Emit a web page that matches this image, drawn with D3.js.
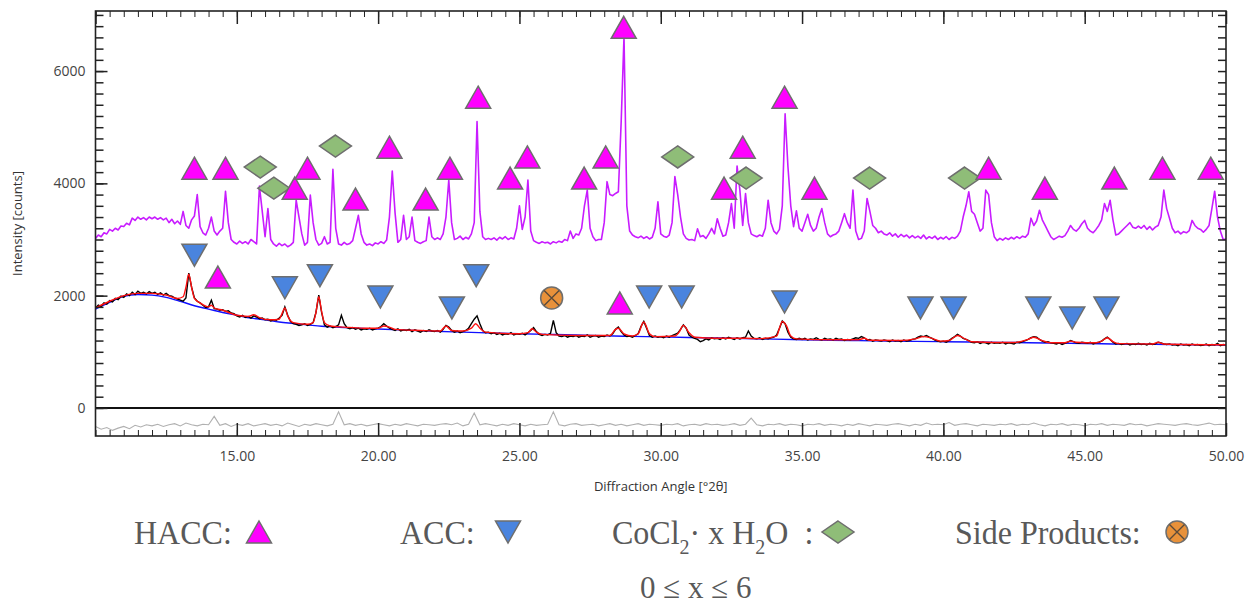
<!doctype html>
<html lang="en">
  <head>
    <meta charset="utf-8">
    <title>XRD pattern</title>
    <script src="https://d3js.org/d3.v7.min.js"></script>
    <style>
      body { margin: 0; background: #fff; }
      svg { display: block; }
    </style>
  </head>
  <body>
    <div id="chart"></div>
    <script type="text/javascript">
    // ---- data ----
    // upper pattern, counts every 0.1 deg from 10.0 to 50.0
    var upperStart = 10, upperStep = 0.1;
    var upperCounts = [
      3020,3080,3050,3120,3100,3180,3150,3200,3170,3240,
      3230,3290,3260,3380,3340,3400,3360,3390,3350,3400,
      3370,3400,3360,3390,3350,3380,3300,3360,3280,3330,
      3270,3500,3250,3200,3350,3420,3800,3230,3120,3080,
      3200,3400,3150,3080,3150,3200,3860,3300,3000,2950,
      2920,2970,2930,2960,2920,3000,2960,2920,3950,3500,
      3050,3550,3000,2920,2880,2930,2890,2920,2870,2900,
      2950,3700,3400,3100,2900,2950,3790,3300,3000,2900,
      2930,3050,2920,2950,4250,3200,2920,2900,2950,2910,
      2930,2980,3200,3430,3100,2950,2900,2920,2890,2940,
      2920,2960,2930,2990,3400,4220,3470,2950,3000,3430,
      3000,3050,3400,2980,2950,2930,2960,2980,3400,3050,
      3000,3030,3000,3100,3400,4060,3300,3000,3020,3060,
      3000,3040,3010,3100,3300,5100,3500,3050,3000,3020,
      3000,3030,2990,3040,3010,3050,3000,3030,3010,3200,
      3600,3180,3400,4060,3150,2980,2950,2930,2960,2940,
      2950,2920,2960,2940,2970,2950,3000,2980,3150,3020,
      3100,3080,3200,3600,3880,3200,3050,2980,3000,3000,
      3300,4030,3800,3780,3820,3850,5100,6620,3600,3150,
      3080,3050,3030,3060,3020,3050,3010,3040,3200,3670,
      3100,3060,3040,3080,3300,4120,3800,3400,3100,3020,
      2990,3000,2980,3190,3050,3070,3020,3100,3200,3100,
      3370,3200,3060,3080,3300,3640,3200,4310,3880,3250,
      3820,3300,3100,3070,3050,3080,3060,3200,3700,3300,
      3150,3100,3180,3600,5240,4300,3600,3230,3510,3200,
      3150,3300,3450,3250,3150,3200,3400,3550,3300,3100,
      3050,3080,3100,3150,3300,3460,3300,3200,3880,3150,
      3000,3020,3150,3730,3500,3250,3200,3120,3150,3100,
      3080,3120,3060,3100,3040,3090,3050,3080,3030,3070,
      3030,3060,3020,3080,3010,3050,3020,3060,3000,3040,
      3010,3050,3000,3040,3020,3060,3150,3400,3600,3850,
      3500,3450,3300,3150,3200,3880,3800,3300,3050,2980,
      3020,2990,3030,3000,3040,3010,3050,3020,3060,3040,
      3100,3380,3250,3330,3520,3350,3250,3150,3050,3000,
      3030,3060,3040,3070,3150,3250,3180,3150,3200,3280,
      3340,3200,3150,3120,3180,3250,3350,3640,3500,3700,
      3350,3080,3100,3150,3200,3250,3300,3220,3200,3240,
      3200,3250,3180,3230,3170,3220,3250,3400,3880,3550,
      3380,3200,3120,3150,3100,3140,3120,3160,3340,3250,
      3200,3180,3130,3180,3250,3550,3860,3400,3150,3000,
      3010
    ];

    // lower pattern (observed), counts every 0.1 deg from 10.0 to 50.0
    var obsCounts = [
      1780,1830,1810,1870,1850,1910,1890,1950,1930,1990,
      1970,2030,2000,2060,2020,2080,2040,2060,2030,2070,
      2040,2060,2020,2050,2010,2040,2000,1990,1960,1940,
      1920,1900,1960,2400,2150,1960,1900,1870,1830,1790,
      1800,1920,1770,1760,1740,1750,1720,1730,1690,1680,
      1640,1620,1650,1610,1630,1600,1640,1620,1590,1600,
      1570,1580,1550,1570,1560,1600,1650,1800,1650,1540,
      1500,1490,1470,1480,1500,1470,1490,1520,1700,2010,
      1700,1480,1440,1460,1430,1450,1480,1650,1500,1430,
      1410,1430,1400,1420,1390,1410,1400,1420,1390,1410,
      1420,1450,1500,1460,1420,1400,1380,1410,1370,1390,
      1380,1400,1360,1390,1370,1350,1380,1360,1390,1370,
      1360,1380,1350,1400,1470,1440,1380,1350,1370,1340,
      1360,1380,1420,1500,1580,1640,1500,1380,1340,1350,
      1320,1340,1310,1330,1300,1320,1310,1340,1300,1320,
      1310,1330,1300,1340,1380,1430,1360,1310,1290,1310,
      1300,1330,1560,1340,1280,1270,1290,1260,1280,1270,
      1290,1260,1280,1270,1300,1260,1280,1290,1260,1280,
      1270,1300,1280,1320,1400,1440,1360,1300,1270,1280,
      1260,1290,1320,1450,1540,1420,1290,1260,1280,1260,
      1270,1250,1280,1260,1290,1310,1330,1400,1480,1420,
      1300,1260,1240,1220,1180,1200,1230,1210,1250,1230,
      1240,1220,1250,1230,1260,1240,1220,1250,1230,1250,
      1260,1370,1280,1240,1230,1250,1220,1240,1230,1250,
      1260,1300,1420,1550,1500,1350,1260,1230,1220,1240,
      1220,1240,1210,1230,1220,1250,1220,1210,1240,1220,
      1230,1210,1240,1220,1230,1200,1220,1210,1230,1250,
      1240,1270,1250,1210,1220,1190,1210,1200,1190,1210,
      1200,1180,1210,1190,1200,1180,1210,1190,1200,1220,
      1230,1260,1280,1270,1290,1260,1240,1210,1190,1180,
      1190,1170,1200,1240,1270,1310,1280,1240,1220,1200,
      1170,1160,1180,1150,1170,1160,1140,1170,1150,1160,
      1150,1170,1140,1160,1150,1140,1170,1160,1180,1200,
      1220,1250,1270,1260,1220,1190,1170,1180,1160,1150,
      1140,1160,1130,1150,1170,1200,1180,1160,1150,1170,
      1160,1150,1170,1140,1160,1170,1190,1230,1260,1220,
      1170,1140,1150,1130,1140,1150,1120,1140,1130,1150,
      1130,1140,1120,1150,1130,1140,1170,1160,1140,1130,
      1140,1120,1130,1110,1140,1120,1130,1110,1140,1120,
      1130,1110,1120,1140,1110,1130,1120,1150,1110,1130,
      1120
    ];

    // calculated fit (red), [angle, counts]
    var fitPoints = [
      [10.0,1780],[10.5,1900],[11.0,2000],[11.5,2040],[12.0,2040],[12.5,2010],[12.9,1950],
      [13.1,1980],[13.2,2150],[13.3,2380],[13.4,2150],[13.5,1950],[13.7,1870],[14.0,1800],
      [14.1,1830],[14.2,1780],[14.5,1740],[15.0,1650],[15.4,1630],[15.6,1660],[15.8,1610],
      [16.2,1570],[16.5,1580],[16.6,1680],[16.7,1780],[16.8,1640],[17.0,1520],[17.5,1490],
      [17.7,1520],[17.8,1700],[17.9,1980],[18.0,1720],[18.1,1520],[18.3,1460],[18.8,1440],
      [19.5,1420],[20.0,1420],[20.1,1440],[20.2,1460],[20.4,1440],[20.6,1400],[21.5,1380],
      [22.2,1370],[22.4,1460],[22.6,1380],[23.0,1370],[23.3,1420],[23.45,1500],[23.6,1420],
      [23.8,1350],[25.0,1320],[25.3,1340],[25.45,1410],[25.6,1350],[25.8,1310],[27.0,1290],
      [28.2,1290],[28.4,1400],[28.5,1420],[28.7,1320],[29.0,1280],[29.2,1320],[29.4,1530],
      [29.6,1320],[29.8,1270],[30.5,1280],[30.65,1350],[30.8,1470],[31.0,1340],[31.2,1260],
      [32.0,1240],[33.0,1240],[33.5,1235],[34.1,1280],[34.2,1420],[34.3,1540],[34.45,1460],
      [34.6,1280],[34.8,1230],[36.0,1215],[37.0,1215],[37.2,1240],[37.4,1205],[38.5,1200],
      [39.0,1230],[39.3,1270],[39.6,1240],[39.9,1190],[40.2,1200],[40.5,1290],[40.8,1220],
      [41.0,1180],[42.5,1165],[43.0,1220],[43.2,1260],[43.5,1200],[43.8,1160],[44.3,1160],
      [44.5,1190],[44.7,1170],[45.4,1160],[45.6,1190],[45.8,1250],[46.0,1180],[46.2,1145],
      [47.4,1140],[47.6,1170],[47.8,1140],[50.0,1125]
    ];

    // background (blue), [angle, counts]
    var bgPoints = [
      [10.0,1760],[10.5,1880],[11.0,1990],[11.5,2020],[12.0,2010],[12.5,1970],[13.0,1900],
      [13.5,1820],[14.0,1760],[14.5,1700],[15.0,1650],[15.5,1600],[16.0,1570],[16.5,1530],
      [17.0,1505],[17.5,1480],[18.0,1455],[18.5,1440],[19.0,1425],[20.0,1405],[21.0,1385],
      [22.0,1365],[23.0,1350],[24.0,1335],[25.0,1322],[26.0,1310],[27.0,1298],[28.0,1285],
      [29.0,1275],[30.0,1265],[31.0,1255],[32.0,1245],[33.0,1235],[34.0,1225],[35.0,1215],
      [36.0,1205],[37.0,1198],[38.0,1192],[39.0,1186],[40.0,1180],[41.0,1175],[42.0,1168],
      [43.0,1162],[44.0,1155],[45.0,1148],[46.0,1140],[47.0,1135],[48.0,1130],[49.0,1125],
      [50.0,1120]
    ];

    // difference curve (grey), counts every 0.2 deg from 10.0 to 50.0
    var diffStep = 0.2;
    var diffCounts = [
      -330,-380,-350,-400,-360,-330,-370,-310,-340,-300,
      -320,-290,-330,-300,-280,-320,-270,-300,-320,-290,
      -300,-150,-310,-280,-330,-290,-310,-280,-320,-300,
      -280,-310,-290,-320,-270,-300,-330,-290,-310,-280,
      -300,-320,-290,-70,-300,-280,-310,-290,-320,-300,
      -280,-300,-320,-290,-310,-280,-300,-320,-290,-300,
      -310,-290,-280,-300,-270,-320,-290,-90,-300,-280,
      -300,-320,-290,-310,-280,-300,-320,-290,-310,-300,
      -290,-70,-300,-320,-290,-280,-310,-300,-290,-320,
      -300,-280,-310,-290,-320,-300,-280,-310,-290,-300,
      -310,-290,-300,-280,-320,-300,-290,-310,-280,-300,
      -290,-310,-300,-280,-310,-290,-180,-300,-320,-290,
      -300,-280,-310,-290,-300,-320,-290,-300,-280,-310,
      -290,-300,-320,-290,-310,-280,-300,-320,-290,-300,
      -310,-290,-280,-300,-320,-290,-310,-270,-300,-290,
      -300,-260,-310,-290,-280,-300,-320,-290,-300,-310,
      -290,-300,-280,-310,-290,-300,-270,-300,-320,-290,
      -300,-280,-310,-290,-300,-320,-290,-300,-280,-310,
      -290,-300,-310,-280,-300,-290,-320,-300,-280,-290,
      -300,-310,-290,-280,-300,-310,-290,-270,-300,-290,
      -300
    ];

    // phase markers: angle, counts
    var haccAngles = [13.50,14.60,17.05,17.50,19.20,20.40,21.68,22.54,23.54,24.67,25.28,27.29,
                      28.05,28.69,32.24,32.90,34.38,35.44,41.60,43.59,46.05,47.75,49.46,14.33,28.55];
    var haccCounts = [4270,4270,3915,4270,3720,4645,3720,4270,5535,4095,4470,4095,
                      4470,6780,3915,4645,5535,3915,4270,3915,4095,4270,4270,2330,1870];
    var accAngles = [13.50,16.70,17.94,20.08,22.61,23.47,29.59,30.74,34.38,39.19,40.36,43.36,44.56,45.77];
    var accCounts = [2720,2140,2355,1975,1780,2355,1975,1975,1885,1780,1780,1780,1600,1780];
    var coclAngles = [15.83,16.31,18.49,30.60,33.02,37.39,40.75];
    var coclCounts = [4290,3915,4665,4470,4095,4095,4095];
    var sideAngles = [26.14];
    var sideCounts = [1960];

    var xTicksMajor = [15, 20, 25, 30, 35, 40, 45, 50];
    var yTicksMajor = [0, 2000, 4000, 6000];

    // ---- layout ----
    var width = 1246, height = 607;
    var plot = {left: 95.5, right: 1226, top: 11, bottom: 436};

    var x = d3.scaleLinear().domain([10, 50]).range([plot.left, plot.right]);
    var y = d3.scaleLinear().domain([-500, 7070]).range([plot.bottom, plot.top]);

    const svg = d3.select("#chart").append("svg")
        .attr("width", width)
        .attr("height", height)
        .style("font-family", "'Open Sans', sans-serif");

    svg.append("defs").append("clipPath").attr("id", "clip")
        .append("rect")
        .attr("x", plot.left).attr("y", plot.top)
        .attr("width", plot.right - plot.left)
        .attr("height", plot.bottom - plot.top);

    // build series from arrays
    var upperSeries = upperCounts.map((v, i) => [upperStart + i * upperStep, v]);
    var obsSeries = obsCounts.map((v, i) => [upperStart + i * upperStep, v]);
    var diffSeries = diffCounts.map((v, i) => [upperStart + i * diffStep, v]);

    var line = d3.line().x(d => x(d[0])).y(d => y(d[1]));

    const gLines = svg.append("g").attr("clip-path", "url(#clip)").attr("fill", "none");

    gLines.append("path").datum(diffSeries)
        .attr("d", line).attr("stroke", "#b0b0b0").attr("stroke-width", 1.1);

    gLines.append("path").datum(upperSeries)
        .attr("d", line).attr("stroke", "#c81cff").attr("stroke-width", 1.6)
        .attr("stroke-linejoin", "round");

    gLines.append("path").datum(bgPoints)
        .attr("d", d3.line().curve(d3.curveMonotoneX).x(d => x(d[0])).y(d => y(d[1])))
        .attr("stroke", "#1010ff").attr("stroke-width", 1.4);

    gLines.append("path").datum(obsSeries)
        .attr("d", line).attr("stroke", "#000").attr("stroke-width", 1.4);

    gLines.append("path").datum(fitPoints)
        .attr("d", d3.line().curve(d3.curveMonotoneX).x(d => x(d[0])).y(d => y(d[1])))
        .attr("stroke", "#ff1010").attr("stroke-width", 1.4);

    // zero line
    svg.append("line")
        .attr("x1", plot.left).attr("x2", plot.right)
        .attr("y1", y(0)).attr("y2", y(0))
        .attr("stroke", "#111").attr("stroke-width", 2);

    // ---- axes (ticks pointing inward) ----
    var xMinor = d3.range(10, 50.001, 0.5);
    var yMinor = d3.range(0, 7001, 200);

    function styleAxis(g) {
        g.select(".domain").remove();
        g.selectAll(".tick line").attr("stroke", "#222");
        g.selectAll(".tick text").attr("fill", "#444")
            .style("font-size", "14px").style("font-family", "'Open Sans', sans-serif");
    }

    svg.append("g").attr("transform", `translate(0,${plot.bottom})`)
        .call(d3.axisBottom(x).tickValues(xMinor).tickSize(-6).tickFormat(""))
        .call(styleAxis);
    svg.append("g").attr("transform", `translate(0,${plot.bottom})`)
        .call(d3.axisBottom(x).tickValues(xTicksMajor).tickSize(-13).tickPadding(15).tickFormat(d3.format(".2f")))
        .call(styleAxis)
        .call(g => g.selectAll(".tick line").attr("stroke-width", 1.5));

    svg.append("g").attr("transform", `translate(0,${plot.top})`)
        .call(d3.axisTop(x).tickValues(xMinor).tickSize(-6).tickFormat(""))
        .call(styleAxis);
    svg.append("g").attr("transform", `translate(0,${plot.top})`)
        .call(d3.axisTop(x).tickValues(xTicksMajor.concat([10])).tickSize(-13).tickFormat(""))
        .call(styleAxis)
        .call(g => g.selectAll(".tick line").attr("stroke-width", 1.5));

    svg.append("g").attr("transform", `translate(${plot.left},0)`)
        .call(d3.axisLeft(y).tickValues(yMinor).tickSize(-8).tickFormat(""))
        .call(styleAxis)
        .call(g => g.selectAll(".tick line").attr("stroke-width", 1.5));
    svg.append("g").attr("transform", `translate(${plot.left},0)`)
        .call(d3.axisLeft(y).tickValues(yTicksMajor).tickSize(-12).tickPadding(10).tickFormat(d3.format("d")))
        .call(styleAxis)
        .call(g => g.selectAll(".tick line").attr("stroke-width", 1.5));

    svg.append("g").attr("transform", `translate(${plot.right},0)`)
        .call(d3.axisRight(y).tickValues(yMinor).tickSize(-8).tickFormat(""))
        .call(styleAxis)
        .call(g => g.selectAll(".tick line").attr("stroke-width", 1.5));

    // frame
    svg.append("rect")
        .attr("x", plot.left).attr("y", plot.top)
        .attr("width", plot.right - plot.left)
        .attr("height", plot.bottom - plot.top)
        .attr("fill", "none").attr("stroke", "#222").attr("stroke-width", 1.6);

    // axis titles
    svg.append("text")
        .attr("transform", `translate(22,${(plot.top + plot.bottom) / 2}) rotate(-90)`)
        .attr("text-anchor", "middle")
        .attr("fill", "#333").style("font-size", "13px")
        .text("Intensity [counts]");
    svg.append("text")
        .attr("x", (plot.left + plot.right) / 2).attr("y", 491)
        .attr("text-anchor", "middle")
        .attr("fill", "#333").style("font-size", "13px")
        .text("Diffraction Angle [°2θ]");

    // ---- marker shapes ----
    function triUp(w, h) { return `M0,${-h/2}L${w/2},${h/2}L${-w/2},${h/2}Z`; }
    function triDown(w, h) { return `M${-w/2},${-h/2}L${w/2},${-h/2}L0,${h/2}Z`; }
    function diamond(w, h) { return `M0,${-h/2}L${w/2},0L0,${h/2}L${-w/2},0Z`; }

    var markerStroke = "#6e6e6e";
    var colHacc = "#ff00ff", colAcc = "#4a84de", colCocl = "#8fbd78", colSide = "#e8913a";

    function drawSide(g) {
        g.append("circle").attr("r", 11)
            .attr("fill", colSide).attr("stroke", markerStroke).attr("stroke-width", 1.5);
        g.append("path").attr("d", "M-7.5,-7.5L7.5,7.5M7.5,-7.5L-7.5,7.5")
            .attr("stroke", "#5a4a3a").attr("stroke-width", 1.4);
    }

    const gMarks = svg.append("g");

    gMarks.selectAll(".acc").data(accAngles).enter().append("path")
        .attr("transform", (d, i) => `translate(${x(d)},${y(accCounts[i])})`)
        .attr("d", triDown(25, 22))
        .attr("fill", colAcc).attr("stroke", markerStroke).attr("stroke-width", 1.5);

    gMarks.selectAll(".cocl").data(coclAngles).enter().append("path")
        .attr("transform", (d, i) => `translate(${x(d)},${y(coclCounts[i])})`)
        .attr("d", diamond(32, 22))
        .attr("fill", colCocl).attr("stroke", markerStroke).attr("stroke-width", 1.5);

    gMarks.selectAll(".hacc").data(haccAngles).enter().append("path")
        .attr("transform", (d, i) => `translate(${x(d)},${y(haccCounts[i])})`)
        .attr("d", triUp(25, 22))
        .attr("fill", colHacc).attr("stroke", markerStroke).attr("stroke-width", 1.5);

    gMarks.selectAll(".side").data(sideAngles).enter().append("g")
        .attr("transform", (d, i) => `translate(${x(d)},${y(sideCounts[i])})`)
        .each(function() { drawSide(d3.select(this)); });

    // ---- legend ----
    const gLegend = svg.append("g")
        .style("font-family", "'Liberation Serif', 'Times New Roman', serif")
        .attr("fill", "#595959");

    var legendY = 544, legendMid = 532;

    function legendText(xPos, yPos) {
        return gLegend.append("text")
            .attr("transform", `translate(${xPos},${yPos}) scale(1,1.08)`)
            .style("font-size", "32px");
    }

    legendText(134, legendY).text("HACC:");
    gLegend.append("path").attr("transform", `translate(259,${legendMid})`)
        .attr("d", triUp(25, 22)).attr("fill", colHacc)
        .attr("stroke", markerStroke).attr("stroke-width", 1.5);

    legendText(400, legendY).text("ACC:");
    gLegend.append("path").attr("transform", `translate(508,${legendMid})`)
        .attr("d", triDown(25, 22)).attr("fill", colAcc)
        .attr("stroke", markerStroke).attr("stroke-width", 1.5);

    var t = legendText(612, legendY);
    t.append("tspan").text("CoCl");
    t.append("tspan").attr("dy", 9).style("font-size", "20px").text("2");
    t.append("tspan").attr("dy", -9).text("· x H");
    t.append("tspan").attr("dy", 9).style("font-size", "20px").text("2");
    t.append("tspan").attr("dy", -9).text("O  :");
    t.attr("xml:space", "preserve").style("white-space", "pre");
    gLegend.append("path").attr("transform", `translate(838,${legendMid})`)
        .attr("d", diamond(32, 22)).attr("fill", colCocl)
        .attr("stroke", markerStroke).attr("stroke-width", 1.5);

    legendText(955, legendY).text("Side Products:");
    drawSide(gLegend.append("g").attr("transform", `translate(1177,${legendMid})`));

    gLegend.append("text")
        .attr("x", 640).attr("y", 598)
        .style("font-size", "31px")
        .text("0 ≤ x ≤ 6");
    </script>
  </body>
</html>
